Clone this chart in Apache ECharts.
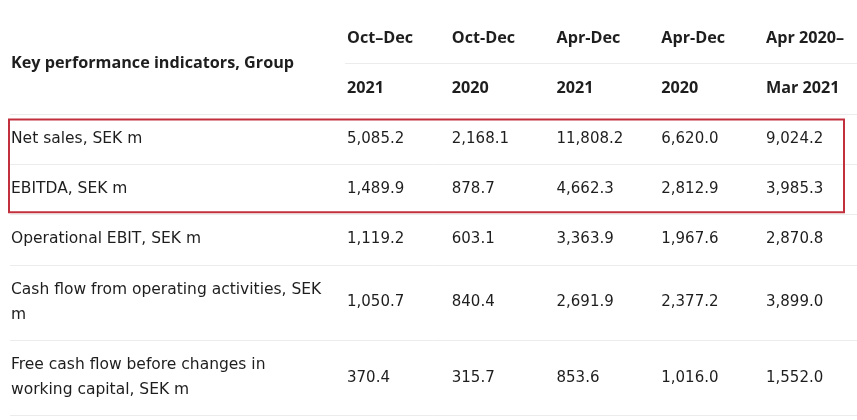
<!DOCTYPE html>
<html>
<head>
<meta charset="utf-8">
<script src="https://cdn.jsdelivr.net/npm/echarts@6/dist/echarts.min.js"></script>
<style>
  html, body { margin: 0; padding: 0; background: #ffffff; }
  #chart { width: 857px; height: 420px; }
</style>
</head>
<body>
<div id="chart"></div>
<script>
// ---- data ----
const tableTitle = 'Key performance indicators, Group';
const periodLine1 = ['Oct\u2013Dec', 'Oct-Dec', 'Apr-Dec', 'Apr-Dec', 'Apr 2020\u2013'];
const periodLine2 = ['2021', '2020', '2021', '2020', 'Mar 2021'];
const rowLabels = [
  'Net sales, SEK m',
  'EBITDA, SEK m',
  'Operational EBIT, SEK m',
  'Cash flow from operating activities, SEK\nm',
  'Free cash flow before changes in\nworking capital, SEK m'
];
const netSales = [5085.2, 2168.1, 11808.2, 6620.0, 9024.2];
const ebitda = [1489.9, 878.7, 4662.3, 2812.9, 3985.3];
const operationalEbit = [1119.2, 603.1, 3363.9, 1967.6, 2870.8];
const cashFlowOperating = [1050.7, 840.4, 2691.9, 2377.2, 3899.0];
const freeCashFlow = [370.4, 315.7, 853.6, 1016.0, 1552.0];
const highlightedRows = [0, 1];

const rowValues = [netSales, ebitda, operationalEbit, cashFlowOperating, freeCashFlow];

// ---- layout (axis units) ----
const X_MAX = 857 / 104.75;      // one x unit = one value column
const Y_MAX = 420 / 25.15;       // one y unit = one text line slot
const TABLE_X0 = 10 / 104.75;
const LABEL_X = 11 / 104.75;
const VALUE_X0 = 347 / 104.75;
const HEADER_DIV_X0 = 345 / 104.75;
const TABLE_TOP = 13 / 25.15;
const HEADER_ROW_H = 2;

const TEXT_COLOR = '#1e1e1e';
// cell kinds: 0 = row label, 1 = header, 2 = number
const CELL_FONTS = {
  0: { fontFamily: '"DejaVu Sans", "Open Sans", sans-serif', fontSize: 15.5, fontWeight: 'normal' },
  1: { fontFamily: '"Open Sans", sans-serif', fontSize: 16.2, fontWeight: 'bold' },
  2: { fontFamily: '"DejaVu Sans", "Open Sans", sans-serif', fontSize: 15, fontWeight: 'normal' }
};

// row geometry
const rowTops = [];
const rowHeights = [];
let yCursor = TABLE_TOP + HEADER_ROW_H * 2;
rowLabels.forEach(function (lbl) {
  const lines = lbl.split('\n').length;
  rowTops.push(yCursor);
  rowHeights.push(1 + lines);
  yCursor += 1 + lines;
});

const fmt = function (v) {
  return v.toLocaleString('en-US', { minimumFractionDigits: 1, maximumFractionDigits: 1 });
};

// text cells: [x, y, text, kind]
const cells = [];
cells.push([LABEL_X, TABLE_TOP + HEADER_ROW_H, tableTitle, 1]);
periodLine1.forEach(function (t, i) { cells.push([VALUE_X0 + i, TABLE_TOP + HEADER_ROW_H / 2, t, 1]); });
periodLine2.forEach(function (t, i) { cells.push([VALUE_X0 + i, TABLE_TOP + HEADER_ROW_H * 1.5, t, 1]); });
rowLabels.forEach(function (lbl, r) {
  const cy = rowTops[r] + rowHeights[r] / 2;
  cells.push([LABEL_X, cy, lbl, 0]);
  rowValues[r].forEach(function (v, i) { cells.push([VALUE_X0 + i, cy, fmt(v), 2]); });
});

// divider lines: [x0, x1, y]
const dividers = [];
dividers.push([HEADER_DIV_X0, X_MAX, TABLE_TOP + HEADER_ROW_H]);
dividers.push([TABLE_X0, X_MAX, TABLE_TOP + HEADER_ROW_H * 2]);
rowTops.forEach(function (t, r) { dividers.push([TABLE_X0, X_MAX, t + rowHeights[r]]); });

// highlight box: [x0, x1, yTop, yBottom]
const hlFirst = highlightedRows[0], hlLast = highlightedRows[highlightedRows.length - 1];
const highlight = [[0, X_MAX, rowTops[hlFirst], rowTops[hlLast] + rowHeights[hlLast]]];

const chart = echarts.init(document.getElementById('chart'), null, { renderer: 'canvas' });
chart.setOption({
  backgroundColor: '#ffffff',
  animation: false,
  grid: { left: 0, right: 0, top: 0, bottom: 0 },
  xAxis: { type: 'value', min: 0, max: X_MAX, show: false },
  yAxis: { type: 'value', min: 0, max: Y_MAX, inverse: true, show: false },
  series: [
    {
      type: 'custom',
      data: dividers,
      z: 1,
      renderItem: function (params, api) {
        const p0 = api.coord([api.value(0), api.value(2)]);
        const p1 = api.coord([api.value(1), api.value(2)]);
        const y = Math.round(p0[1]) + 0.5;
        return {
          type: 'line',
          shape: { x1: p0[0], y1: y, x2: p1[0], y2: y },
          style: { stroke: '#ececec', lineWidth: 1 }
        };
      }
    },
    {
      type: 'custom',
      data: highlight,
      z: 3,
      renderItem: function (params, api) {
        const p0 = api.coord([api.value(0), api.value(2)]);
        const p1 = api.coord([api.value(1), api.value(3)]);
        const x0 = p0[0] + 9, x1 = p1[0] - 13;
        const y0 = p0[1] + 6, y1 = p1[1] - 2;
        return {
          type: 'rect',
          shape: { x: x0, y: y0, width: x1 - x0, height: y1 - y0 },
          style: { fill: 'none', stroke: '#c2303d', lineWidth: 2 }
        };
      }
    },
    {
      type: 'custom',
      data: cells,
      z: 2,
      renderItem: function (params, api) {
        const p = api.coord([api.value(0), api.value(1)]);
        const item = cells[params.dataIndex];
        const f = CELL_FONTS[item[3]];
        return {
          type: 'text',
          x: p[0],
          y: p[1],
          style: {
            text: item[2],
            fill: TEXT_COLOR,
            fontFamily: f.fontFamily,
            fontSize: f.fontSize,
            fontWeight: f.fontWeight,
            align: 'left',
            verticalAlign: 'middle',
            lineHeight: 25
          }
        };
      }
    }
  ]
});
</script>
</body>
</html>
